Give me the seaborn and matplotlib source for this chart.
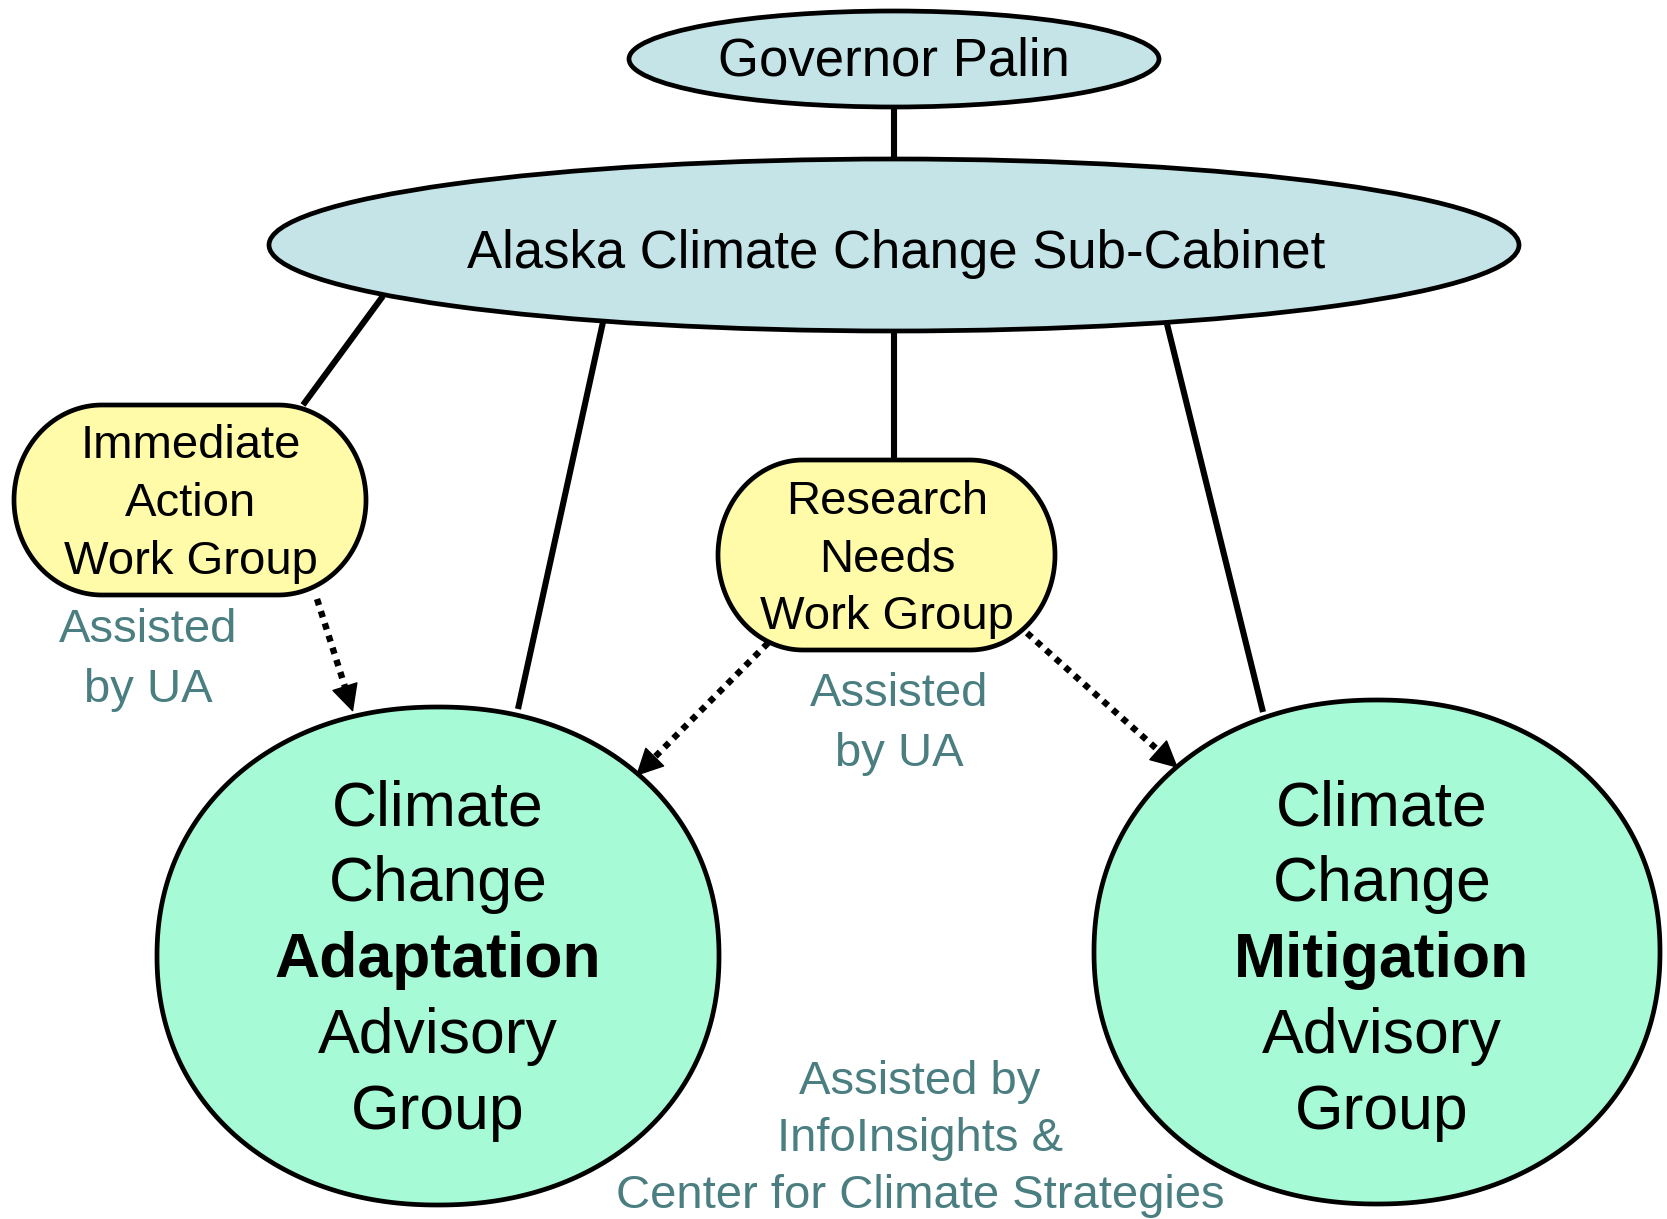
import numpy as np
import matplotlib.pyplot as plt
import seaborn as sns
from matplotlib.patches import Ellipse, Polygon

# node text
top_label = "Governor Palin"
cabinet_label = "Alaska Climate Change Sub-Cabinet"
immediate_lines = ["Immediate", "Action", "Work Group"]
research_lines = ["Research", "Needs", "Work Group"]
adapt_lines = ["Climate", "Change", "Adaptation", "Advisory", "Group"]
mitig_lines = ["Climate", "Change", "Mitigation", "Advisory", "Group"]
bold_word = ["Adaptation", "Mitigation"]
ua_lines = ["Assisted", "by UA"]
bottom_lines = ["Assisted by", "InfoInsights &", "Center for Climate Strategies"]

# colours
BLUE = "#c4e4e8"
YELLOW = "#fffba8"
GREEN = "#a6fad6"
TEAL = "#4a7e80"

sns.set_theme(style="white")
plt.rcParams["font.family"] = ["Liberation Sans", "DejaVu Sans"]
plt.rcParams["text.color"] = "black"

W, H = 1667, 1219
fig = plt.figure(figsize=(W / 100, H / 100), dpi=100)
ax = fig.add_axes([0, 0, 1, 1])
ax.set_xlim(0, W)
ax.set_ylim(H, 0)
ax.axis("off")

LW = 3.4


def blob(cx, cy, a, b, n=2.12):
    t = np.linspace(0, 2 * np.pi, 400)
    c, s = np.cos(t), np.sin(t)
    xs = cx + a * np.sign(c) * np.abs(c) ** (2 / n)
    ys = cy + b * np.sign(s) * np.abs(s) ** (2 / n)
    return Polygon(np.column_stack([xs, ys]), closed=True, fc=GREEN, ec="black",
                   lw=LW, zorder=2)


def pill(x0, y0, x1, y1, rx=85):
    # flat top/bottom, half-ellipse ends
    cy, ry = (y0 + y1) / 2, (y1 - y0) / 2
    t = np.linspace(-np.pi / 2, np.pi / 2, 120)
    right = np.column_stack([x1 - rx + rx * np.cos(t), cy + ry * np.sin(t)])
    left = np.column_stack([x0 + rx - rx * np.cos(t), cy - ry * np.sin(t)])
    return Polygon(np.vstack([right, left]), closed=True, fc=YELLOW, ec="black",
                   lw=LW, zorder=2)


# solid connectors
solid = [((894, 108), (894, 157)),
         ((383, 296), (303, 405)),
         ((603, 322), (518, 709)),
         ((894, 332), (894, 459)),
         ((1167, 324), (1263, 712))]
for (x0, y0), (x1, y1) in solid:
    ax.plot([x0, x1], [y0, y1], color="black", lw=4.4, solid_capstyle="butt", zorder=1)

# shapes
ax.add_patch(Ellipse((894, 59), 530, 96, fc=BLUE, ec="black", lw=LW, zorder=2))
ax.add_patch(Ellipse((894, 245), 1250, 172, fc=BLUE, ec="black", lw=LW, zorder=2))
ax.add_patch(pill(14, 405, 366, 595, rx=88))
ax.add_patch(pill(718, 460, 1055, 650, rx=85))
ax.add_patch(blob(438, 956, 281, 249))
ax.add_patch(blob(1377, 952, 283, 252))

# dotted arrows
dotted = [((317, 599), (353, 712)),
          ((768, 643), (636, 776)),
          ((1027, 633), (1178, 768))]
for (x0, y0), (x1, y1) in dotted:
    d = np.array([x1 - x0, y1 - y0], float)
    d /= np.hypot(*d)
    mx, my = x1 - d[0] * 18, y1 - d[1] * 18
    ax.plot([x0, mx], [y0, my], color="black", lw=4.6, linestyle=(0, (1, 1)), zorder=3)
    ax.annotate("", xy=(x1, y1), xytext=(mx - d[0] * 2, my - d[1] * 2),
                arrowprops=dict(arrowstyle="-|>,head_length=0.9,head_width=0.45",
                                color="black", lw=1, mutation_scale=20,
                                shrinkA=0, shrinkB=0), zorder=3)

# text
ax.text(894, 61, top_label, ha="center", va="center", fontsize=38, zorder=4)
ax.text(896, 254, cabinet_label, ha="center", va="center", fontsize=38, zorder=4)

for i, s in enumerate(immediate_lines):
    ax.text(191, 446 + i * 58, s, ha="center", va="center", fontsize=34, zorder=4)
for i, s in enumerate(research_lines):
    ax.text(887, 502 + i * 57.5, s, ha="center", va="center", fontsize=34, zorder=4)

for i, s in enumerate(ua_lines):
    ax.text(148, 630 + i * 60, s, ha="center", va="center", fontsize=34, color=TEAL, zorder=4)
    ax.text(899, 694 + i * 60, s, ha="center", va="center", fontsize=34, color=TEAL, zorder=4)

for i, s in enumerate(bottom_lines):
    ax.text(920, 1082 + i * 57, s, ha="center", va="center", fontsize=34, color=TEAL, zorder=4)

for cx, lines in [(438, adapt_lines), (1382, mitig_lines)]:
    for i, s in enumerate(lines):
        ax.text(cx, 809 + i * 76, s, ha="center", va="center", fontsize=45,
                fontweight="bold" if s in bold_word else "normal", zorder=4)

fig.savefig("out.png", dpi=100)
